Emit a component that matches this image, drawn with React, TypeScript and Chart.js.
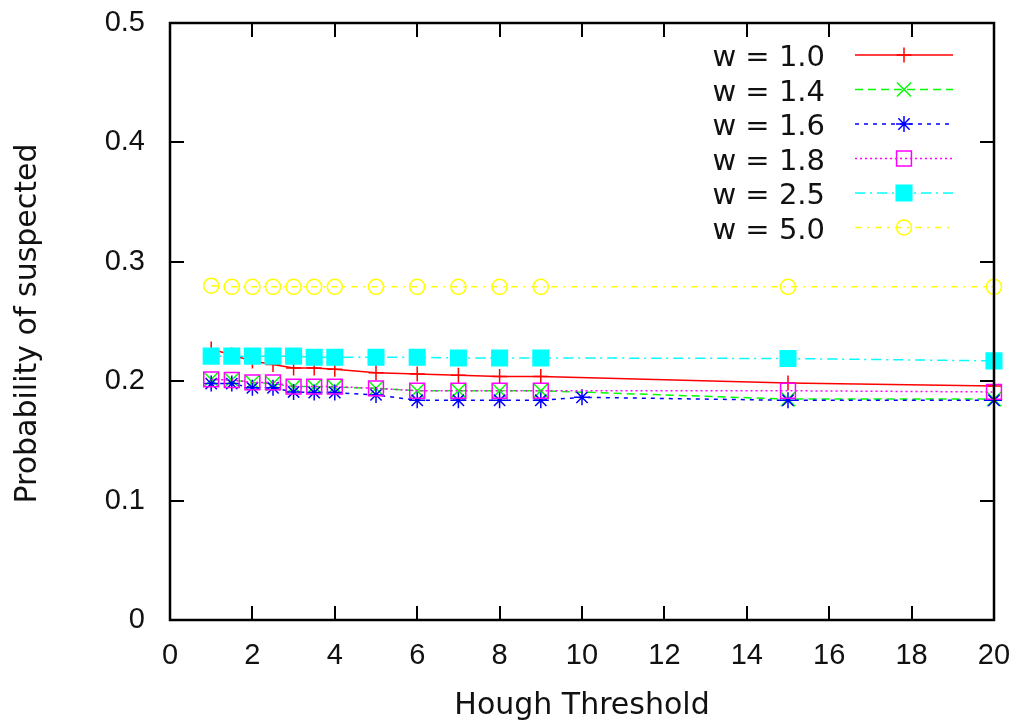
import React, { useEffect, useRef } from "react";
import { Chart, registerables } from "chart.js";

Chart.register(...registerables);

// ---------- data ----------
const seriesLabels = ["w = 1.0", "w = 1.4", "w = 1.6", "w = 1.8", "w = 2.5", "w = 5.0"];
const xCommon = [1, 1.5, 2, 2.5, 3, 3.5, 4, 5, 6, 7, 8, 9, 15, 20];
const xBlue = [1, 1.5, 2, 2.5, 3, 3.5, 4, 5, 6, 7, 8, 9, 10, 15, 20];

const w10 = [0.227, 0.222, 0.217, 0.214, 0.211, 0.211, 0.210, 0.207, 0.206, 0.205, 0.204, 0.204, 0.1985, 0.196];
const w14 = [0.2015, 0.201, 0.199, 0.198, 0.1955, 0.1955, 0.195, 0.194, 0.192, 0.192, 0.192, 0.192, 0.185, 0.185];
const w16 = [0.198, 0.198, 0.1945, 0.1945, 0.191, 0.1905, 0.1905, 0.1885, 0.184, 0.184, 0.184, 0.184, 0.1865, 0.184, 0.184];
const w18 = [0.2015, 0.201, 0.199, 0.199, 0.1955, 0.1955, 0.1955, 0.194, 0.192, 0.192, 0.192, 0.192, 0.192, 0.191];
const w25 = [0.221, 0.221, 0.221, 0.221, 0.221, 0.220, 0.220, 0.220, 0.220, 0.2195, 0.2195, 0.2195, 0.219, 0.217];
const w50 = [0.280, 0.279, 0.279, 0.279, 0.279, 0.279, 0.279, 0.279, 0.279, 0.279, 0.279, 0.279, 0.279, 0.279];

const xTickValues = [0, 2, 4, 6, 8, 10, 12, 14, 16, 18, 20];
const yTickValues = [0, 0.1, 0.2, 0.3, 0.4, 0.5];
const yTickLabels = ["0", "0.1", "0.2", "0.3", "0.4", "0.5"];
const xTitle = "Hough Threshold";
const yTitle = "Probability of suspected";

// ---------- styles ----------
const FONT = '"Liberation Sans", Arial, Helvetica, sans-serif';
const TFONT = '"DejaVu Sans", "Liberation Sans", sans-serif';

type Style = {
  color: string;
  dash: number[];
  pointStyle: string;
  radius: number;
  fill: boolean;
};

const styles: Style[] = [
  { color: "#ff0000", dash: [], pointStyle: "cross", radius: 7.5, fill: false },
  { color: "#00ff00", dash: [8, 5], pointStyle: "crossRot", radius: 10, fill: false },
  { color: "#0000ff", dash: [4, 5], pointStyle: "star", radius: 8, fill: false },
  { color: "#ff00ff", dash: [2, 3], pointStyle: "rect", radius: 10.5, fill: false },
  { color: "#00ffff", dash: [10, 5, 2, 5], pointStyle: "rect", radius: 11, fill: true },
  { color: "#ffff00", dash: [6, 6, 2, 6], pointStyle: "circle", radius: 7.5, fill: false },
];

const seriesX = [xCommon, xCommon, xBlue, xCommon, xCommon, xCommon];
const seriesY = [w10, w14, w16, w18, w25, w50];

function drawMarker(ctx: CanvasRenderingContext2D, s: Style, x: number, y: number) {
  const r = s.radius;
  ctx.save();
  ctx.setLineDash([]);
  ctx.strokeStyle = s.color;
  ctx.fillStyle = s.color;
  ctx.lineWidth = 1.5;
  ctx.beginPath();
  if (s.pointStyle === "cross") {
    ctx.moveTo(x, y - r); ctx.lineTo(x, y + r);
    ctx.moveTo(x - r, y); ctx.lineTo(x + r, y);
    ctx.stroke();
  } else if (s.pointStyle === "crossRot") {
    const d = r * Math.SQRT1_2;
    ctx.moveTo(x - d, y - d); ctx.lineTo(x + d, y + d);
    ctx.moveTo(x - d, y + d); ctx.lineTo(x + d, y - d);
    ctx.stroke();
  } else if (s.pointStyle === "star") {
    const d = r * Math.SQRT1_2;
    ctx.moveTo(x, y - r); ctx.lineTo(x, y + r);
    ctx.moveTo(x - r, y); ctx.lineTo(x + r, y);
    ctx.moveTo(x - d, y - d); ctx.lineTo(x + d, y + d);
    ctx.moveTo(x - d, y + d); ctx.lineTo(x + d, y - d);
    ctx.stroke();
  } else if (s.pointStyle === "rect") {
    const d = r * Math.SQRT1_2;
    ctx.rect(x - d, y - d, 2 * d, 2 * d);
    if (s.fill) ctx.fill();
    ctx.stroke();
  } else {
    ctx.arc(x, y, r, 0, Math.PI * 2);
    if (s.fill) ctx.fill();
    ctx.stroke();
  }
  ctx.restore();
}

const framePlugin = {
  id: "gnuFrame",
  afterDatasetsDraw(chart: any) {
    const { ctx, chartArea: a, scales } = chart;
    ctx.save();
    ctx.setLineDash([]);
    ctx.strokeStyle = "#000";
    // inward ticks on all four sides
    ctx.lineWidth = 2;
    const L = 14;
    ctx.beginPath();
    for (const v of xTickValues) {
      const px = Math.round(scales.x.getPixelForValue(v));
      ctx.moveTo(px, a.bottom); ctx.lineTo(px, a.bottom - L);
      ctx.moveTo(px, a.top); ctx.lineTo(px, a.top + L);
    }
    for (const v of yTickValues) {
      const py = Math.round(scales.y.getPixelForValue(v));
      ctx.moveTo(a.left, py); ctx.lineTo(a.left + L, py);
      ctx.moveTo(a.right, py); ctx.lineTo(a.right - L, py);
    }
    ctx.stroke();
    ctx.lineWidth = 2.5;
    ctx.strokeRect(a.left, a.top, a.right - a.left, a.bottom - a.top);

    // axis titles
    ctx.fillStyle = "#111";
    ctx.font = `30px ${TFONT}`;
    ctx.textAlign = "center";
    ctx.textBaseline = "alphabetic";
    ctx.fillText(xTitle, (a.left + a.right) / 2, 714);
    ctx.save();
    ctx.translate(36, (a.top + a.bottom) / 2 + 2);
    ctx.rotate(-Math.PI / 2);
    ctx.fillText(yTitle, 0, 0);
    ctx.restore();

    // legend
    ctx.font = `29px ${TFONT}`;
    ctx.textAlign = "right";
    const rowTop = 55;
    const rowGap = 34.5;
    for (let i = 0; i < seriesLabels.length; i++) {
      const s = styles[i];
      const y = rowTop + i * rowGap;
      ctx.fillStyle = "#111";
      ctx.fillText(seriesLabels[i], 825, y + 11);
      ctx.save();
      ctx.strokeStyle = s.color;
      ctx.lineWidth = 1.5;
      ctx.setLineDash(s.dash);
      ctx.beginPath();
      ctx.moveTo(855, y);
      ctx.lineTo(953, y);
      ctx.stroke();
      ctx.restore();
      drawMarker(ctx, s, 904, y);
    }
    ctx.restore();
  },
};

function zeroPadding(s: any) {
  s.paddingTop = 0;
  s.paddingBottom = 0;
  s.paddingLeft = 0;
  s.paddingRight = 0;
}

export default function App() {
  const ref = useRef<HTMLCanvasElement | null>(null);

  useEffect(() => {
    const canvas = ref.current;
    if (!canvas) return;
    const datasets = seriesLabels.map((label, i) => {
      const s = styles[i];
      return {
        label,
        data: seriesX[i].map((x, j) => ({ x, y: seriesY[i][j] })),
        borderColor: s.color,
        backgroundColor: s.color,
        borderWidth: 1.5,
        borderDash: s.dash,
        pointStyle: s.pointStyle,
        pointRadius: s.radius,
        pointBorderWidth: 1.5,
        pointBorderColor: s.color,
        pointBackgroundColor: s.fill ? s.color : "rgba(0,0,0,0)",
        tension: 0,
        fill: false,
        clip: false as any,
        order: 6 - i,
      };
    });

    const chart = new Chart(canvas, {
      type: "line",
      data: { datasets },
      plugins: [framePlugin],
      options: {
        animation: false,
        responsive: false,
        devicePixelRatio: 1,
        events: [],
        layout: { padding: { top: 23, right: 24, left: 0, bottom: 0 } },
        plugins: { legend: { display: false }, tooltip: { enabled: false }, title: { display: false } },
        scales: {
          x: {
            type: "linear",
            min: 0,
            max: 20,
            grid: { display: false, drawTicks: false },
            border: { display: false },
            ticks: {
              stepSize: 2,
              autoSkip: false,
              maxRotation: 0,
              color: "#111",
              font: { family: FONT, size: 29 },
              padding: 19,
            },
            afterFit: (s: any) => { s.height = 101; zeroPadding(s); },
          },
          y: {
            type: "linear",
            min: 0,
            max: 0.5,
            grid: { display: false, drawTicks: false },
            border: { display: false },
            ticks: {
              stepSize: 0.1,
              color: "#111",
              font: { family: FONT, size: 29 },
              padding: 25,
              callback: (v: any) => {
                const idx = yTickValues.findIndex((t) => Math.abs(t - Number(v)) < 1e-9);
                return idx >= 0 ? yTickLabels[idx] : "";
              },
            },
            afterFit: (s: any) => { s.width = 170; zeroPadding(s); },
          },
        },
      } as any,
    });
    return () => chart.destroy();
  }, []);

  return (
    <div style={{ position: "absolute", left: 0, top: 0, width: 1018, height: 721, background: "#fff" }}>
      <canvas ref={ref} width={1018} height={721} style={{ display: "block", width: 1018, height: 721 }} />
    </div>
  );
}
